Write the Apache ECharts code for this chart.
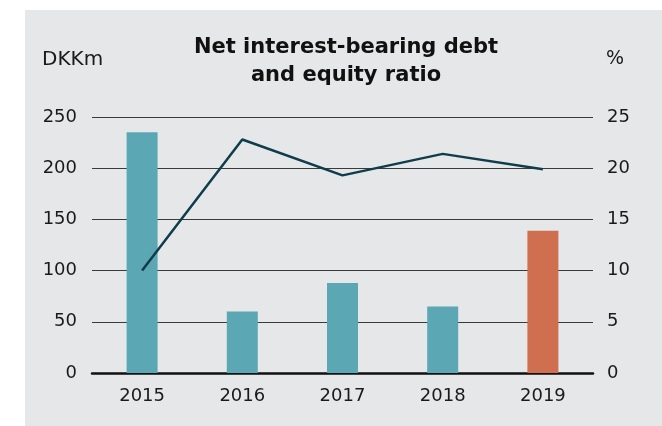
<!DOCTYPE html>
<html>
<head>
<meta charset="utf-8">
<script src="https://cdn.jsdelivr.net/npm/echarts@6/dist/echarts.min.js"></script>
<style>
  html, body { margin: 0; padding: 0; background: #fff; }
  #chart { width: 662px; height: 426px; }
</style>
</head>
<body>
<div id="chart"></div>
<script>
const years = ["2015", "2016", "2017", "2018", "2019"]
const debt = [235, 60, 88, 65, 139]          // DKKm, left axis
const equityRatio = [10, 22.8, 19.3, 21.4, 19.9]  // %, right axis

const barColor = "#5ba8b4"
const lastBarColor = "#d06e50"
const font = "DejaVu Sans"

const chart = echarts.init(document.getElementById("chart"))

const option = {
  backgroundColor: "#ffffff",
  animation: false,
  graphic: [
    {
      type: "rect",
      z: -10,
      shape: { x: 25, y: 10, width: 637, height: 416 },
      style: { fill: "#e6e7e9" }
    },
    {
      type: "text",
      left: 42,
      top: 50,
      style: { text: "DKKm", fontSize: 20, fontFamily: font, fill: "#1a1a1a" }
    },
    {
      type: "text",
      left: 606,
      top: 50,
      style: { text: "%", fontSize: 19, fontFamily: font, fill: "#1a1a1a" }
    }
  ],
  title: {
    text: "Net interest-bearing debt\nand equity ratio",
    left: 341,
    top: 29,
    textAlign: "center",
    textStyle: {
      fontFamily: font,
      fontSize: 21,
      fontWeight: "bold",
      lineHeight: 28,
      color: "#111"
    }
  },
  grid: { left: 92, right: 69, top: 117, bottom: 53 },
  xAxis: {
    type: "category",
    data: years,
    axisTick: { show: false },
    axisLine: { lineStyle: { color: "#111", width: 2.5 } },
    axisLabel: { fontFamily: font, fontSize: 18, color: "#1a1a1a", margin: 14 }
  },
  yAxis: [
    {
      type: "value",
      min: 0,
      max: 250,
      interval: 50,
      axisLine: { show: false },
      axisTick: { show: false },
      axisLabel: { fontFamily: font, fontSize: 18, color: "#1a1a1a", margin: 15 },
      splitLine: { lineStyle: { color: "#3a3a3a", width: 1 } }
    },
    {
      type: "value",
      min: 0,
      max: 25,
      interval: 5,
      axisLine: { show: false },
      axisTick: { show: false },
      axisLabel: { fontFamily: font, fontSize: 18, color: "#1a1a1a", margin: 14 },
      splitLine: { show: false }
    }
  ],
  series: [
    {
      name: "Net interest-bearing debt",
      type: "bar",
      yAxisIndex: 0,
      barWidth: 31,
      data: debt.map((v, i) => ({
        value: v,
        itemStyle: { color: i === debt.length - 1 ? lastBarColor : barColor }
      }))
    },
    {
      name: "Equity ratio",
      type: "line",
      yAxisIndex: 1,
      data: equityRatio,
      showSymbol: false,
      symbol: "none",
      lineStyle: { color: "#0f3d4c", width: 2.5 },
      z: 5
    }
  ]
}

chart.setOption(option)
</script>
</body>
</html>
